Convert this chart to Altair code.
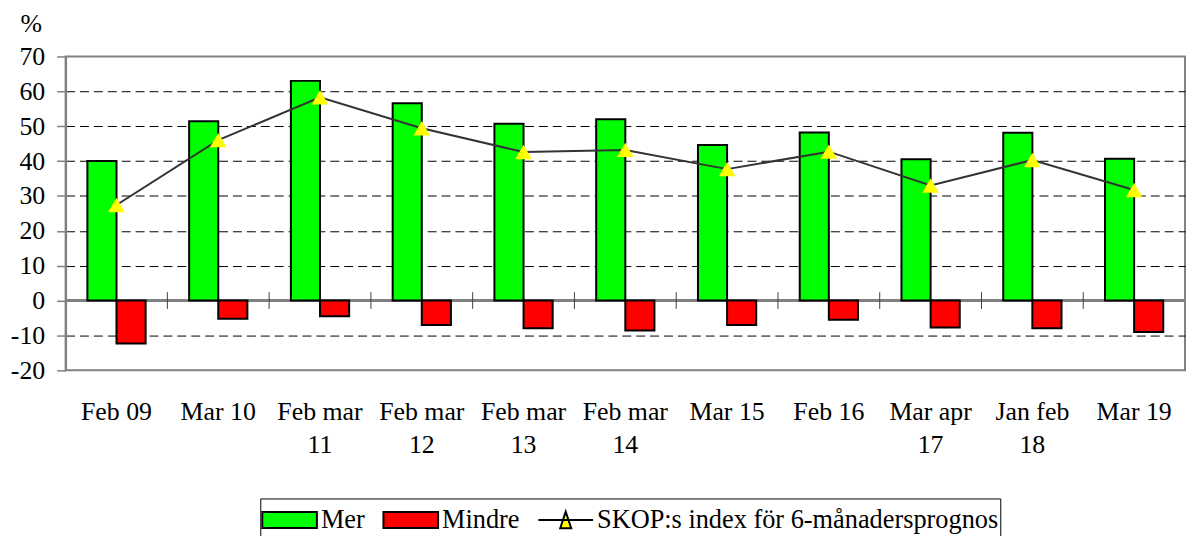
import altair as alt
import pandas as pd

# ---- data ----
categories = ["Feb 09", "Mar 10", "Feb mar\n11", "Feb mar\n12", "Feb mar\n13",
              "Feb mar\n14", "Mar 15", "Feb 16", "Mar apr\n17", "Jan feb\n18", "Mar 19"]
mer = [40.0, 51.4, 63.0, 56.6, 50.7, 52.0, 44.6, 48.2, 40.5, 48.1, 40.7]
mindre = [-12.3, -5.2, -4.5, -7.0, -7.9, -8.6, -7.0, -5.5, -7.7, -7.9, -9.0]
skop_index = [27.4, 46.0, 58.3, 49.4, 42.6, 43.2, 37.7, 42.7, 33.0, 40.3, 31.7]

series_names = ["Mer", "Mindre", "SKOP:s index för 6-månadersprognos"]
series_fills = ["#00ff00", "#ff0000", "#ffff00"]   # bar fills, and the index marker fill
line_color = "#333333"
y_ticks = list(range(-20, 71, 10))
y_domain = [-20, 70]
sep_half = 2.4  # half-length (in % units) of the category separator ticks on the zero line

FONT = "Liberation Serif"
FS = 26

bars_df = pd.DataFrame(
    [{"cat": c, "series": series_names[0], "value": v} for c, v in zip(categories, mer)]
    + [{"cat": c, "series": series_names[1], "value": v} for c, v in zip(categories, mindre)]
)
idx_df = pd.DataFrame({"cat": categories, "value": skop_index, "series": series_names[2]})
sep_df = pd.DataFrame({"cat": categories[1:]})

x_scale = alt.Scale(domain=categories, paddingInner=0, paddingOuter=0)
y_scale = alt.Scale(domain=y_domain, nice=False)

x_axis = alt.Axis(
    title=None, domain=False, ticks=False, tickSize=0, grid=False, labelAngle=0,
    labelFont=FONT, labelFontSize=FS, labelColor="black", labelPadding=29,
    labelLineHeight=33, labelLimit=300,
    labelExpr="split(datum.label, '\\n')",
)
y_axis = alt.Axis(
    values=y_ticks, title="%", titleAngle=0, titleAlign="left", titleBaseline="alphabetic",
    titleX=-46, titleY=-25,
    titleFont=FONT, titleFontSize=FS, titleFontWeight="normal", titleColor="black",
    labelFont=FONT, labelFontSize=FS, labelColor="black",
    labelExpr="datum.value < 0 ? '-' + abs(datum.value) : '' + datum.value",
    labelOverlap=False,
    grid=True,
    gridOpacity={"condition": {"test": "datum.value === 70 || datum.value === -20 || datum.value === 0",
                               "value": 0}, "value": 1},
)

# legend symbols: 55x16 boxes for the bars, a line with a triangle for the index
# (symbol drawn with scale sqrt(size)/2 = 19 px per unit, centred 20 px from entry start;
#  the leading move-to only stretches the legend frame downwards)
rect_path = "M0,1.25M-1.026,-0.421H1.868V0.421H-1.026Z"
line_path = "M0,1.25M-1.026,0H1.868M0.13,0.44L0.421,-0.44L0.712,0.44Z"
shape_expr = f"datum.value === '{series_names[2]}' ? '{line_path}' : '{rect_path}'"

legend = alt.Legend(
    title=None, orient="none", direction="horizontal", columns=3,
    legendX=196, legendY=445, padding=1.5,
    strokeColor="black", fillColor="white",
    symbolSize=1444, symbolStrokeWidth=2, symbolOpacity=1,
    symbolType=alt.ExprRef(expr=shape_expr),
    labelFont=FONT, labelFontSize=26.5, labelColor="black", labelOffset=19.5,
    labelLimit=600, columnPadding=14,
)
color = alt.Color("series:N", scale=alt.Scale(domain=series_names, range=series_fills), legend=legend)

zero_rule = alt.Chart(idx_df).mark_rule(color="#808080", strokeWidth=2).encode(
    y=alt.datum(0, scale=y_scale, axis=y_axis),
)

sep_rule = alt.Chart(sep_df).mark_rule(color="#404040", strokeWidth=1).encode(
    x=alt.X("cat:N", scale=x_scale, axis=x_axis, bandPosition=0, sort=categories),
    y=alt.datum(-sep_half, scale=y_scale, axis=y_axis),
    y2=alt.datum(sep_half),
)

bars = alt.Chart(bars_df).mark_bar(stroke="black", strokeWidth=2, opacity=1).encode(
    x=alt.X("cat:N", scale=x_scale, axis=x_axis, sort=categories),
    xOffset=alt.XOffset("series:N", scale=alt.Scale(domain=series_names[:2], paddingInner=0, paddingOuter=0.747)),
    y=alt.Y("value:Q", scale=y_scale, axis=y_axis),
    color=color,
)

line = alt.Chart(idx_df).mark_line(strokeWidth=2, color=line_color).encode(
    x=alt.X("cat:N", scale=x_scale, axis=x_axis, sort=categories),
    y=alt.Y("value:Q", scale=y_scale, axis=y_axis),
)

points = alt.Chart(idx_df).mark_point(shape="triangle-up", filled=True, fill=series_fills[2],
                                      color=series_fills[2], size=280, opacity=1).encode(
    x=alt.X("cat:N", scale=x_scale, axis=x_axis, sort=categories),
    y=alt.Y("value:Q", scale=y_scale, axis=y_axis),
)

chart = alt.layer(zero_rule, sep_rule, bars, line, points).properties(
    width=1127, height=316,
    autosize=alt.AutoSizeParams(type="none"),
    padding={"left": 58, "top": 47, "right": 2, "bottom": 165},
    background="white",
).configure(
    font=FONT,
).configure_view(
    stroke="#808080", strokeWidth=2,
).configure_axisY(
    titleFont=FONT, titleFontSize=FS, titleFontWeight="normal", titleColor="black",
    labelFont=FONT, labelFontSize=FS, labelColor="black", labelPadding=12, labelOverlap=False,
    tickSize=9, tickColor="#808080", tickWidth=1.5,
    domainColor="#808080", domainWidth=2,
    gridColor="black", gridWidth=1, gridDash=[9, 5],
).configure_axisX(
    labelFont=FONT, labelFontSize=FS, labelColor="black",
).configure_legend(
    labelFont=FONT,
)

chart.save("out.html", embed_options={"renderer": "svg", "actions": False})
